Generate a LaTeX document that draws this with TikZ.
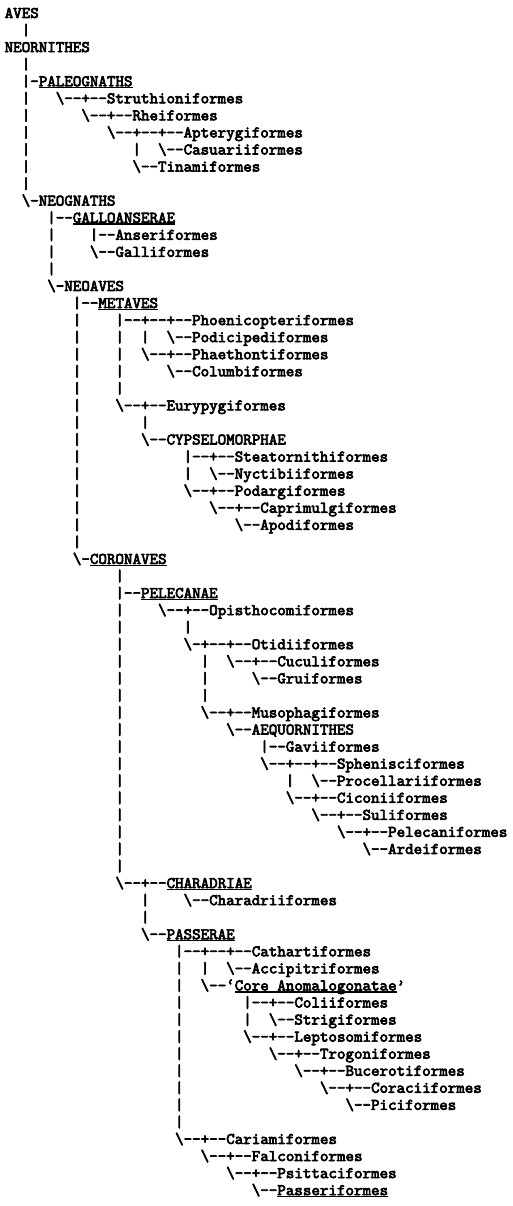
\documentclass[tikz,border=0pt]{standalone}
\usepackage{fontspec}
\setmonofont{lmmono10-regular.otf}[FakeBold=4]
\newlength\colw
\setlength\colw{8.52pt}
\newcommand\bs{\textbackslash}
\newcommand\sk[1]{\hspace*{#1\colw}}
\newcommand\grupo[1]{\sbox0{#1}\rlap{\rule[-2.2pt]{\wd0}{1.5pt}}\usebox0}
\tikzset{linea/.style={anchor=base west, inner sep=0pt,
    font=\fontsize{16.23}{17}\selectfont\ttfamily\bfseries}}
\begin{document}
\begin{tikzpicture}[x=8.52pt, y=-17.06pt]
                \useasboundingbox (-4.5pt,18pt) rectangle (508.5pt,-1188pt);

                % Raiz del arbol
                \node[linea] (aves) at (0,0) {AVES};
                \node[linea] (b1) at (2,1) {|};
                \node[linea] (neornithes) at (0,2) {NEORNITHES};
                \node[linea] (b3) at (2,3) {|};

                % Paleognatas
                \node[linea] (paleognaths) at (2,4) {|-\grupo{PALEOGNATHS}};
                \node[linea] (struthioniformes) at (2,5) {|\sk3\bs--+--Struthioniformes};
                \node[linea] (rheiformes) at (2,6) {|\sk6\bs--+--Rheiformes};
                \node[linea] (apterygiformes) at (2,7) {|\sk9\bs--+--+--Apterygiformes};
                \node[linea] (casuariiformes) at (2,8) {|\sk{12}|\sk2\bs--Casuariiformes};
                \node[linea] (tinamiformes) at (2,9) {|\sk{12}\bs--Tinamiformes};
                \node[linea] (b10) at (2,10) {|};

                % Neognatas y Galloanserae
                \node[linea] (neognaths) at (2,11) {\bs-NEOGNATHS};
                \node[linea] (galloanserae) at (5,12) {|--\grupo{GALLOANSERAE}};
                \node[linea] (anseriformes) at (5,13) {|\sk4|--Anseriformes};
                \node[linea] (galliformes) at (5,14) {|\sk4\bs--Galliformes};
                \node[linea] (b15) at (5,15) {|};

                % Neoaves: Metaves
                \node[linea] (neoaves) at (5,16) {\bs-NEOAVES};
                \node[linea] (metaves) at (8,17) {|--\grupo{METAVES}};
                \node[linea] (phoenicopteriformes) at (8,18) {|\sk4|--+--+--Phoenicopteriformes};
                \node[linea] (podicipediformes) at (8,19) {|\sk4|\sk2|\sk2\bs--Podicipediformes};
                \node[linea] (phaethontiformes) at (8,20) {|\sk4|\sk2\bs--+--Phaethontiformes};
                \node[linea] (columbiformes) at (8,21) {|\sk4|\sk5\bs--Columbiformes};
                \node[linea] (b22) at (8,22) {|\sk4|};
                \node[linea] (eurypygiformes) at (8,23) {|\sk4\bs--+--Eurypygiformes};
                \node[linea] (b24) at (8,24) {|\sk7|};
                \node[linea] (cypselomorphae) at (8,25) {|\sk7\bs--CYPSELOMORPHAE};
                \node[linea] (steatornithiformes) at (8,26) {|\sk{12}|--+--Steatornithiformes};
                \node[linea] (nyctibiiformes) at (8,27) {|\sk{12}|\sk2\bs--Nyctibiiformes};
                \node[linea] (podargiformes) at (8,28) {|\sk{12}\bs--+--Podargiformes};
                \node[linea] (caprimulgiformes) at (8,29) {|\sk{15}\bs--+--Caprimulgiformes};
                \node[linea] (apodiformes) at (8,30) {|\sk{18}\bs--Apodiformes};
                \node[linea] (b31) at (8,31) {|};

                % Coronaves: Pelecanae
                \node[linea] (coronaves) at (8,32) {\bs-\grupo{CORONAVES}};
                \node[linea] (b33) at (13,33) {|};
                \node[linea] (pelecanae) at (13,34) {|--\grupo{PELECANAE}};
                \node[linea] (opisthocomiformes) at (13,35) {|\sk4\bs--+--Opisthocomiformes};
                \node[linea] (b36) at (13,36) {|\sk7|};
                \node[linea] (otidiiformes) at (13,37) {|\sk7\bs-+--+--Otidiiformes};
                \node[linea] (cuculiformes) at (13,38) {|\sk9|\sk2\bs--+--Cuculiformes};
                \node[linea] (gruiformes) at (13,39) {|\sk9|\sk5\bs--Gruiformes};
                \node[linea] (b40) at (13,40) {|\sk9|};
                \node[linea] (musophagiformes) at (13,41) {|\sk9\bs--+--Musophagiformes};
                \node[linea] (aequornithes) at (13,42) {|\sk{12}\bs--AEQUORNITHES};
                \node[linea] (gaviiformes) at (13,43) {|\sk{16}|--Gaviiformes};
                \node[linea] (sphenisciformes) at (13,44) {|\sk{16}\bs--+--+--Sphenisciformes};
                \node[linea] (procellariiformes) at (13,45) {|\sk{19}|\sk2\bs--Procellariiformes};
                \node[linea] (ciconiiformes) at (13,46) {|\sk{19}\bs--+--Ciconiiformes};
                \node[linea] (suliformes) at (13,47) {|\sk{22}\bs--+--Suliformes};
                \node[linea] (pelecaniformes) at (13,48) {|\sk{25}\bs--+--Pelecaniformes};
                \node[linea] (ardeiformes) at (13,49) {|\sk{28}\bs--Ardeiformes};
                \node[linea] (b50) at (13,50) {|};

                % Charadriae y Passerae
                \node[linea] (charadriae) at (13,51) {\bs--+--\grupo{CHARADRIAE}};
                \node[linea] (charadriiformes) at (16,52) {|\sk4\bs--Charadriiformes};
                \node[linea] (b53) at (16,53) {|};
                \node[linea] (passerae) at (16,54) {\bs--\grupo{PASSERAE}};
                \node[linea] (cathartiformes) at (20,55) {|--+--+--Cathartiformes};
                \node[linea] (accipitriformes) at (20,56) {|\sk2|\sk2\bs--Accipitriformes};
                \node[linea] (anomalogonatae) at (20,57) {|\sk2\bs--‘\grupo{Core Anomalogonatae}’};
                \node[linea] (coliiformes) at (20,58) {|\sk7|--+--Coliiformes};
                \node[linea] (strigiformes) at (20,59) {|\sk7|\sk2\bs--Strigiformes};
                \node[linea] (leptosomiformes) at (20,60) {|\sk7\bs--+--Leptosomiformes};
                \node[linea] (trogoniformes) at (20,61) {|\sk{10}\bs--+--Trogoniformes};
                \node[linea] (bucerotiformes) at (20,62) {|\sk{13}\bs--+--Bucerotiformes};
                \node[linea] (coraciiformes) at (20,63) {|\sk{16}\bs--+--Coraciiformes};
                \node[linea] (piciformes) at (20,64) {|\sk{19}\bs--Piciformes};
                \node[linea] (b65) at (20,65) {|};

                % Ultima rama: Australaves
                \node[linea] (cariamiformes) at (20,66) {\bs--+--Cariamiformes};
                \node[linea] (falconiformes) at (23,67) {\bs--+--Falconiformes};
                \node[linea] (psittaciformes) at (26,68) {\bs--+--Psittaciformes};
                \node[linea] (passeriformes) at (29,69) {\bs--\grupo{Passeriformes}};

\end{tikzpicture}
\end{document}
